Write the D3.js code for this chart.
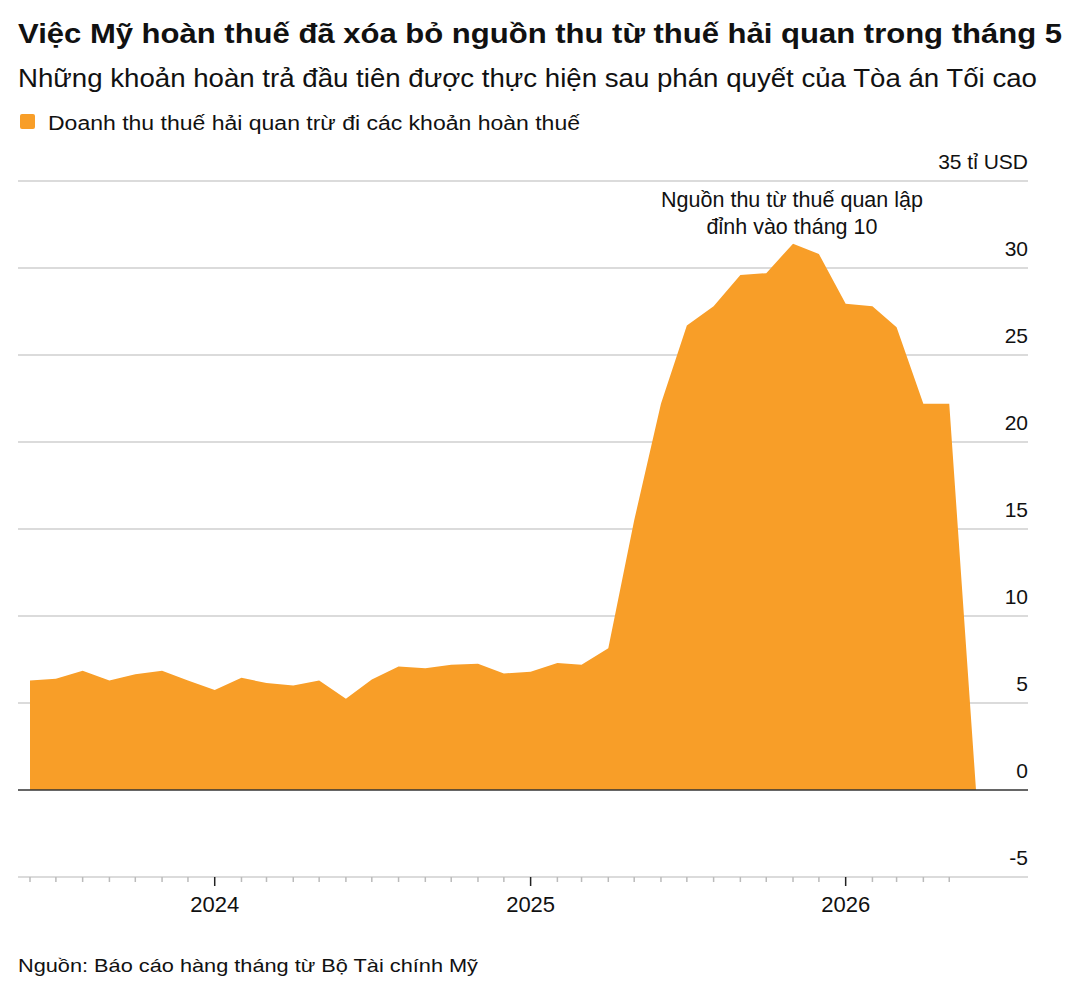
<!DOCTYPE html>
<html>
<head>
  <title>Hoàn thuế hải quan</title>
  <meta charset='utf-8'>
  <style>
    body { margin: 0; background: #fff; }
    svg text { font-family: "Liberation Sans", Arial, sans-serif; fill: #111; }
  </style>
</head>
<body>
  <div id="chart"></div>

  <script src="https://cdn.jsdelivr.net/npm/d3@7"></script>

  <script type="text/javascript">
    // monthly data, each month is plotted at its end (start of next month)
    var months = [
      "2023-05","2023-06","2023-07","2023-08","2023-09","2023-10","2023-11","2023-12",
      "2024-01","2024-02","2024-03","2024-04","2024-05","2024-06","2024-07","2024-08",
      "2024-09","2024-10","2024-11","2024-12",
      "2025-01","2025-02","2025-03","2025-04","2025-05","2025-06","2025-07","2025-08",
      "2025-09","2025-10","2025-11","2025-12",
      "2026-01","2026-02","2026-03","2026-04","2026-05"
    ];
    var revenue = [
      6.3, 6.4, 6.85, 6.3, 6.65, 6.85, 6.3, 5.75,
      6.45, 6.15, 6.0, 6.3, 5.25, 6.35, 7.1, 7.0,
      7.2, 7.25, 6.7, 6.8,
      7.3, 7.2, 8.15, 15.5, 22.2, 26.7, 27.8, 29.6,
      29.7, 31.4, 30.8, 27.95,
      27.8, 26.6, 22.2, 22.2, 0
    ];
    var yTicks = [-5, 0, 5, 10, 15, 20, 25, 30, 35];
    var yearTicks = ["2024", "2025", "2026"];

    var title = "Việc Mỹ hoàn thuế đã xóa bỏ nguồn thu từ thuế hải quan trong tháng 5",
        subtitle = "Những khoản hoàn trả đầu tiên được thực hiện sau phán quyết của Tòa án Tối cao",
        legendLabel = "Doanh thu thuế hải quan trừ đi các khoản hoàn thuế",
        note = ["Nguồn thu từ thuế quan lập", "đỉnh vào tháng 10"],
        source = "Nguồn: Báo cáo hàng tháng từ Bộ Tài chính Mỹ";

    var width = 1084,
        height = 992;

    var parseMonth = d3.timeParse("%Y-%m");
    var data = months.map(function(m, i) {
      return { date: d3.timeMonth.offset(parseMonth(m), 1), value: revenue[i] };
    });

    var svg = d3.select("#chart")
                .append("svg")
                .attr("width", width)
                .attr("height", height);

    var x = d3.scaleTime()
              .domain([data[0].date, data[data.length - 1].date])
              .range([30, 976]);

    var y = d3.scaleLinear()
              .domain([-5, 35])
              .range([877, 181]);

    var gridLeft = 18, gridRight = 1028;

    // fit a text element to a given width
    function fit(sel, w) {
      var len = sel.node().getComputedTextLength();
      if (Math.abs(len - w) > 2) {
        sel.attr("textLength", w).attr("lengthAdjust", "spacingAndGlyphs");
      }
    }

    // header
    svg.append("text").attr("x", 18).attr("y", 43)
       .style("font-size", "28px").style("font-weight", "bold")
       .text(title).call(fit, 1044);

    svg.append("text").attr("x", 18).attr("y", 87)
       .style("font-size", "25px")
       .text(subtitle).call(fit, 1019);

    svg.append("rect").attr("x", 20).attr("y", 114)
       .attr("width", 15).attr("height", 15).attr("rx", 2)
       .attr("fill", "#f89e28");

    svg.append("text").attr("x", 48).attr("y", 130)
       .style("font-size", "20px")
       .text(legendLabel).call(fit, 532);

    // grid lines + y labels
    svg.selectAll(".grid")
       .data(yTicks.filter(function(d) { return d !== 0 && d !== -5; }))
       .enter()
       .append("line")
       .attr("x1", gridLeft).attr("x2", gridRight)
       .attr("y1", function(d) { return y(d); })
       .attr("y2", function(d) { return y(d); })
       .style("stroke", "#cfcfcf")
       .style("stroke-width", "1.5px");

    svg.selectAll(".ylab")
       .data(yTicks)
       .enter()
       .append("text")
       .attr("x", gridRight)
       .attr("y", function(d) { return y(d) - 12; })
       .attr("text-anchor", "end")
       .style("font-size", "21px")
       .text(function(d) { return d === 35 ? "35 tỉ USD" : d; });

    // area
    var area = d3.area()
                 .x(function(d) { return x(d.date); })
                 .y0(y(0))
                 .y1(function(d) { return y(d.value); });

    svg.append("path")
       .datum(data)
       .attr("d", area)
       .attr("fill", "#f89e28");

    // zero line
    svg.append("line")
       .attr("x1", gridLeft).attr("x2", gridRight)
       .attr("y1", y(0)).attr("y2", y(0))
       .style("stroke", "#333")
       .style("stroke-width", "1.5px");

    // x axis
    svg.append("line")
       .attr("x1", gridLeft).attr("x2", gridRight)
       .attr("y1", y(-5)).attr("y2", y(-5))
       .style("stroke", "#cfcfcf")
       .style("stroke-width", "1.5px");

    var monthTicks = d3.timeMonth.range(data[0].date, data[data.length - 1].date);

    svg.selectAll(".mtick")
       .data(monthTicks)
       .enter()
       .append("line")
       .attr("x1", function(d) { return x(d); })
       .attr("x2", function(d) { return x(d); })
       .attr("y1", y(-5))
       .attr("y2", function(d) { return d.getMonth() === 0 ? y(-5) + 9 : y(-5) + 5; })
       .style("stroke", function(d) { return d.getMonth() === 0 ? "#222" : "#bbb"; })
       .style("stroke-width", "1.5px");

    svg.selectAll(".xlab")
       .data(yearTicks)
       .enter()
       .append("text")
       .attr("x", function(d) { return x(new Date(+d, 0, 1)); })
       .attr("y", 912)
       .attr("text-anchor", "middle")
       .style("font-size", "22px")
       .text(function(d) { return d; });

    // annotation
    svg.selectAll(".note")
       .data(note)
       .enter()
       .append("text")
       .attr("x", 792)
       .attr("y", function(d, i) { return 207 + i * 27; })
       .attr("text-anchor", "middle")
       .style("font-size", "21.5px")
       .text(function(d) { return d; });

    // source
    svg.append("text").attr("x", 18).attr("y", 972)
       .style("font-size", "19px")
       .text(source).call(fit, 460);
  </script>
</body>
</html>
